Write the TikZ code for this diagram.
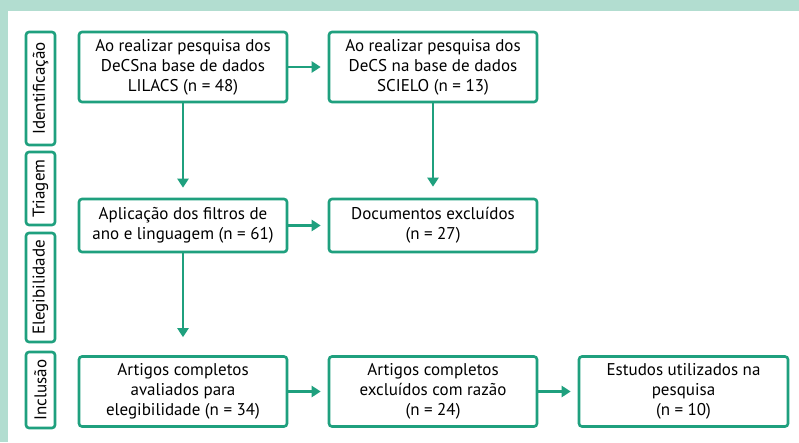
\documentclass[tikz,border=0pt]{standalone}
\usepackage{fontspec}
\setmainfont{PT Sans}
\usetikzlibrary{arrows.meta}
\definecolor{mint}{RGB}{178,221,208}
\definecolor{flowgreen}{RGB}{31,160,126}
\tikzset{
  etapa/.style={draw=flowgreen,line width=2.6pt,rounded corners=3pt,minimum width=208pt,
    inner sep=0pt,align=center,font=\fontsize{17}{20}\selectfont},
  fase/.style={draw=flowgreen,line width=2.6pt,rounded corners=3pt,minimum height=29pt,
    inner sep=0pt,rotate=90,font=\fontsize{17}{18}\selectfont},
  seta/.style={draw=flowgreen,line width=2.6pt,-{Triangle[length=9pt,width=11pt]}}
}
\begin{document}
\begin{tikzpicture}[x=1pt,y=1pt]
\useasboundingbox (0,0) rectangle (799,442);
\fill[mint](0,0) rectangle (799,442);
\fill[white](8,0) rectangle (799,431);
% fases
\node[fase,minimum width=113pt] (ident) at (40.5,353.5) {Identificação};
\node[fase,minimum width=73pt] (triag) at (40.5,253.5) {Triagem};
\node[fase,minimum width=109pt] (eleg) at (40.5,154.5) {Elegibilidade};
\node[fase,minimum width=76pt] (incl) at (40.5,52) {Inclusão};
% etapas
\node[etapa,minimum height=70pt] (lilacs) at (183,375) {Ao realizar pesquisa dos\\DeCSna base de dados\\LILACS (n = 48)};
\node[etapa,minimum height=70pt] (scielo) at (433,375) {Ao realizar pesquisa dos\\DeCS na base de dados\\SCIELO (n = 13)};
\node[etapa,minimum height=53pt] (filtros) at (183,216.5) {Aplicação dos filtros de\\ano e linguagem (n = 61)};
\node[etapa,minimum height=53pt] (excl) at (433,216.5) {Documentos excluídos\\(n = 27)};
\node[etapa,minimum height=70pt] (aval) at (183,50.5) {Artigos completos\\avaliados para\\elegibilidade (n = 34)};
\node[etapa,minimum height=70pt] (razao) at (433,50.5) {Artigos completos\\excluídos com razão\\(n = 24)};
\node[etapa,minimum height=70pt,minimum width=209pt] (estudos) at (683.5,50.5) {Estudos utilizados na\\pesquisa\\(n = 10)};
% setas
\draw[seta,shorten >=7pt] (lilacs) -- (scielo);
\draw[seta,shorten >=10pt] (lilacs) -- (filtros);
\draw[seta,shorten >=11pt] (scielo) -- (excl);
\draw[seta,shorten >=7pt] (filtros) -- (excl);
\draw[seta,shorten >=18pt] (filtros) -- (aval);
\draw[seta,shorten >=7pt] (aval) -- (razao);
\draw[seta,shorten >=7pt] (razao) -- (estudos);
\end{tikzpicture}
\end{document}
